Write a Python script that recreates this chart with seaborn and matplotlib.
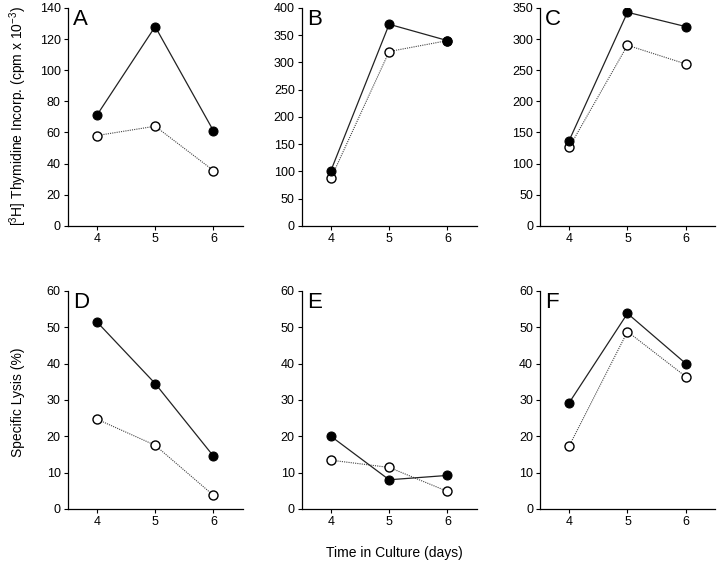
import numpy as np
import pandas as pd
import matplotlib
matplotlib.use("Agg")
import matplotlib.pyplot as plt
import seaborn as sns

# datos
days = [4, 5, 6]
panels = ["A", "B", "C", "D", "E", "F"]
filled_A = [71, 128, 61]
open_A = [58, 64, 35.5]
filled_B = [101, 370, 340]
open_B = [87, 320, 340]
filled_C = [137, 343, 320]
open_C = [126, 290, 260]
filled_D = [51.5, 34.5, 14.5]
open_D = [24.7, 17.5, 3.7]
filled_E = [20, 8, 9.2]
open_E = [13.4, 11.4, 4.8]
filled_F = [29.2, 53.8, 40]
open_F = [17.3, 48.8, 36.4]

filled = [filled_A, filled_B, filled_C, filled_D, filled_E, filled_F]
opened = [open_A, open_B, open_C, open_D, open_E, open_F]
ymax = [140, 400, 350, 60, 60, 60]
ystep = [20, 50, 50, 10, 10, 10]

sns.set_style("ticks")
plt.rcParams['font.family'] = ['Liberation Sans', 'DejaVu Sans']
plt.rcParams['mathtext.fontset'] = 'custom'
plt.rcParams['mathtext.rm'] = 'Liberation Sans'
plt.rcParams['text.color'] = 'black'

fig = plt.figure(figsize=(7.2, 5.66), dpi=100)
lefts = [0.094, 0.419, 0.750]
bottoms = [0.601, 0.101]
w, h = 0.243, 0.385

for i, p in enumerate(panels):
    row, col = divmod(i, 3)
    ax = fig.add_axes([lefts[col], bottoms[row], w, h])
    df = pd.DataFrame({"day": days * 2,
                       "val": opened[i] + filled[i],
                       "grp": ["open"] * 3 + ["filled"] * 3})
    # serie abierta (linea punteada)
    sns.lineplot(data=df[df.grp == "open"], x="day", y="val", ax=ax,
                 color="#444444", lw=0.8, linestyle=(0, (1, 1)),
                 marker="o", markersize=6.5, markerfacecolor="white",
                 markeredgecolor="black", markeredgewidth=1.0)
    # serie rellena (linea continua)
    sns.lineplot(data=df[df.grp == "filled"], x="day", y="val", ax=ax,
                 color="#222222", lw=0.9,
                 marker="o", markersize=6.5, markerfacecolor="black",
                 markeredgecolor="black")
    ax.set_xlim(3.5, 6.5)
    ax.set_ylim(0, ymax[i])
    ax.set_xticks(days)
    ax.set_yticks(np.arange(0, ymax[i] + 1, ystep[i]))
    ax.set_xlabel("")
    ax.set_ylabel("")
    ax.tick_params(labelsize=9, length=3, width=0.8, pad=2, colors="black")
    for s in ["left", "bottom"]:
        ax.spines[s].set_linewidth(0.9)
        ax.spines[s].set_color("black")
    sns.despine(ax=ax)
    ax.text(0.03, 0.995, p, transform=ax.transAxes, fontsize=16,
            va="top", ha="left", color="black")

fig.text(0.025, 0.795, "[$^{3}$H] Thymidine Incorp. (cpm x 10$^{\\mathrm{-3}}$)",
         rotation=90, va="center", ha="center", fontsize=10)
fig.text(0.025, 0.29, "Specific Lysis (%)", rotation=90,
         va="center", ha="center", fontsize=10)
fig.text(0.548, 0.023, "Time in Culture (days)", ha="center",
         va="center", fontsize=10)

fig.savefig("out.png", dpi=100)
